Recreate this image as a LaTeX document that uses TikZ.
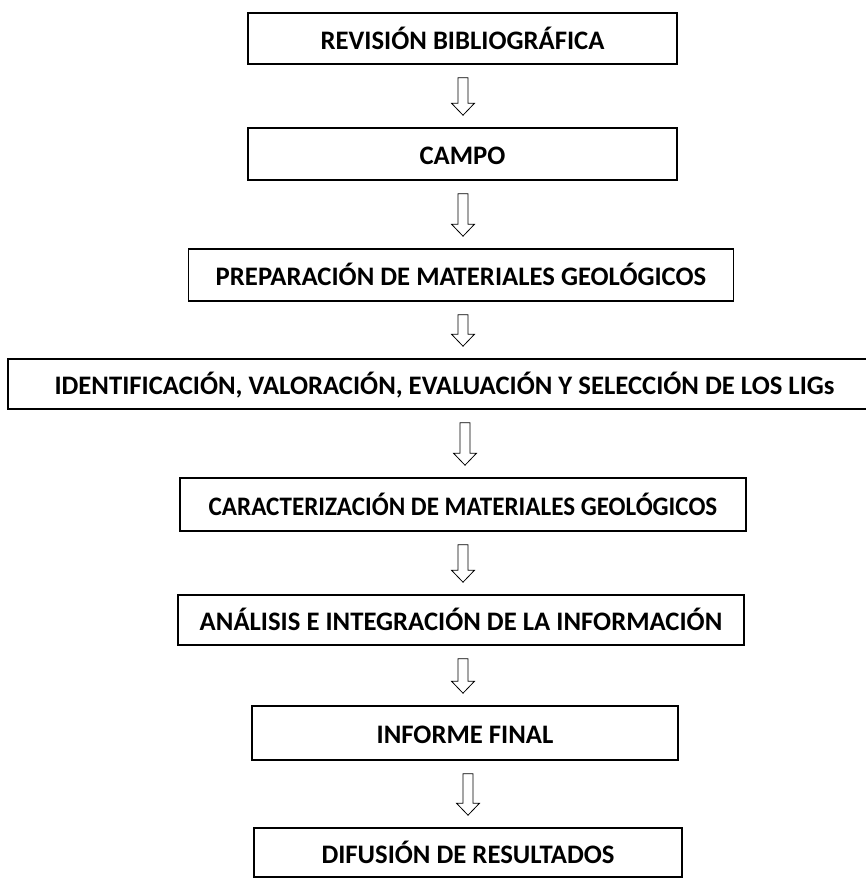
\documentclass[tikz,border=0pt]{standalone}
\usepackage{fontspec}
\setmainfont{Carlito}
\usetikzlibrary{calc}
\tikzset{
  x=1pt, y=1pt,
  stagebox/.style={draw=black, line width=1.6pt, rectangle, inner sep=0pt,
    font=\bfseries\fontsize{26.7}{30}\selectfont, text height=21pt, text depth=0pt,
    align=center},
  hollowarrow/.style={draw=black, line width=0.8pt, fill=white, line join=miter},
}
\newcommand{\flowarrow}[3]{% from, to, x
  \draw[hollowarrow] let \p1=($(#1.south)+(0,-13)$), \p2=($(#2.north)+(0,12)$) in
    (#3pt-5pt,\y1) -- (#3pt+5pt,\y1) -- (#3pt+5pt,\y2+12pt) -- (#3pt+11.5pt,\y2+12pt)
    -- (#3pt,\y2) -- (#3pt-11.5pt,\y2+12pt) -- (#3pt-5pt,\y2+12pt) -- cycle;
}
\begin{document}
\begin{tikzpicture}
\clip (0,0) rectangle (866,-878);
\fill[white] (0,0) rectangle (866,-878);
\node[stagebox, minimum width=429pt, minimum height=51pt] (b1) at (462.5,-38.5) {REVISIÓN BIBLIOGRÁFICA};
\node[stagebox, minimum width=429pt, minimum height=52pt] (b2) at (462.5,-154) {CAMPO};
\node[stagebox, minimum width=545pt, minimum height=52pt] (b3) at (461,-275) {PREPARACIÓN DE MATERIALES GEOLÓGICOS};
\node[stagebox, minimum width=873pt, minimum height=50pt] (b4) at (444.5,-384) {IDENTIFICACIÓN, VALORACIÓN, EVALUACIÓN Y SELECCIÓN DE LOS LIGs};
\node[stagebox, minimum width=566pt, minimum height=53pt] (b5) at (463,-504.5) {\scalebox{0.94}[1]{CARACTERIZACIÓN DE MATERIALES GEOLÓGICOS}};
\node[stagebox, minimum width=566pt, minimum height=50pt] (b6) at (461,-620) {ANÁLISIS E INTEGRACIÓN DE LA INFORMACIÓN};
\node[stagebox, minimum width=426pt, minimum height=54pt] (b7) at (465,-733) {INFORME FINAL};
\node[stagebox, minimum width=428pt, minimum height=49pt] (b8) at (468,-852.5) {DIFUSIÓN DE RESULTADOS};
\flowarrow{b1}{b2}{463}
\flowarrow{b2}{b3}{463}
\flowarrow{b3}{b4}{463}
\flowarrow{b4}{b5}{465}
\flowarrow{b5}{b6}{463}
\flowarrow{b6}{b7}{463}
\flowarrow{b7}{b8}{468}
\end{tikzpicture}
\end{document}
